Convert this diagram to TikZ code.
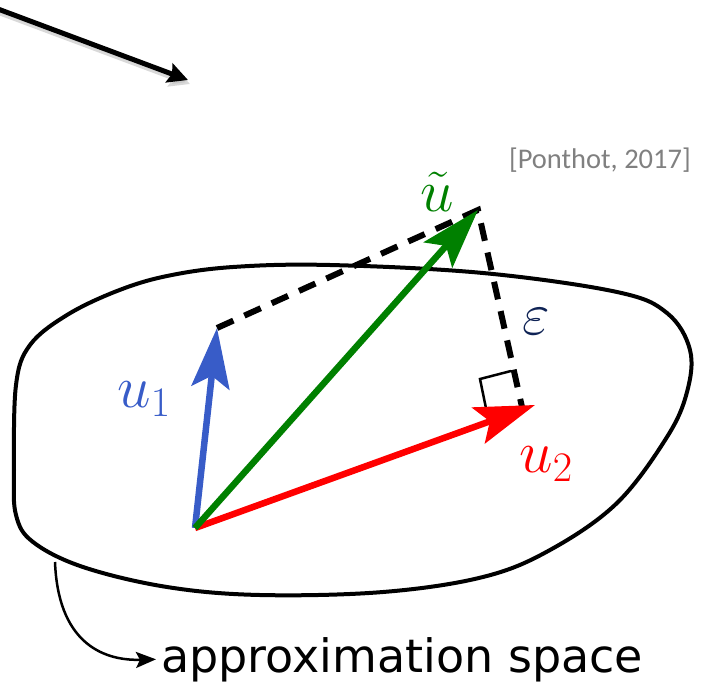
\RequirePackage{fix-cm}
\documentclass[tikz,border=0pt]{standalone}
\usepackage{fontspec}
\newfontfamily\dejavu{DejaVu Sans}
\newfontfamily\carlito{Carlito}
\usetikzlibrary{arrows.meta}
\definecolor{ublue}{RGB}{56,92,200}
\definecolor{ugreen}{RGB}{0,128,0}
\definecolor{ured}{RGB}{255,0,0}
\definecolor{enavy}{RGB}{15,35,85}
\definecolor{refgray}{RGB}{128,128,128}
\tikzset{
  vec/.style={line width=6.5pt, -{Stealth[length=60pt,width=38pt,inset=12pt]}},
  dashline/.style={line width=6pt, dash pattern=on 18pt off 12pt},
  blob/.style={line width=4pt, line join=round},
  mathlbl/.style={font=\fontsize{60}{70}\selectfont, inner sep=0pt},
  toparrow/.style={line width=5pt, -{Stealth[length=20pt,width=20pt,inset=3pt]}},
}
\begin{document}
\begin{tikzpicture}[x=1pt,y=-1pt]
\useasboundingbox (0,0) rectangle (701,693);
% top arrow with shadow
\coordinate (ts) at (-2,9);
\coordinate (te) at (188,80);
\draw[toparrow, draw=black!25, fill=black!25, opacity=0.6, transform canvas={shift={(2pt,-4pt)}}] (ts) -- (te);
\draw[toparrow] (ts) -- (te);
% citation
\node[anchor=base east, text=refgray, font=\carlito\fontsize{28.5}{30}\selectfont, inner sep=0pt] (cite) at (691,168) {[Ponthot, 2017]};
% blob
\draw[blob] plot[smooth cycle, tension=0.6] coordinates {
 (330,265) (483,273) (617,292) (667,313) (690,350) (687,392) (667,437)
 (617,503) (550,550) (483,577) (383,592) (260,595) (167,587) (83,567)
 (33,542) (16,515) (14,470) (16,385) (30,345) (67,315) (117,291) (167,276) (233,267)};
% points
\coordinate (O) at (195,528);
\coordinate (A) at (217,328);
\coordinate (U) at (478,210);
\coordinate (B) at (535,405);
\coordinate (F) at (522,407);
% dashed lines
\draw[dashline] (A) -- (U) -- (F);
% right angle mark
\coordinate (r1) at (488,418);
\coordinate (r2) at (480,379);
\coordinate (r3) at (511,371);
\draw[line width=2.5pt] (r1) -- (r2) -- (r3);
% vectors
\draw[vec, draw=ured, fill=ured] (O) -- (B);
\draw[vec, draw=ublue, fill=ublue] (O) -- (A);
\draw[vec, draw=ugreen, fill=ugreen] (O) -- (U);
% labels
\node[mathlbl, text=ugreen] (lu) at (437,192) {$\tilde{u}$};
\node[mathlbl, text=ublue] (l1) at (144,399) {$u_1$};
\node[mathlbl, text=ured] (l2) at (546,464) {$u_2$};
\node[mathlbl, text=enavy] (le) at (536,322) {$\varepsilon$};
% approximation space
\coordinate (as0) at (55,562);
\node[anchor=base west, font=\dejavu\fontsize{46}{50}\selectfont, inner sep=0pt] (as) at (161,672) {approximation space};
\draw[line width=2.5pt, -{Stealth[length=20pt,width=16pt,inset=4pt]}] (as0) .. controls (58,640) and (100,661) .. ([xshift=-5pt]as.west);
\end{tikzpicture}
\end{document}
